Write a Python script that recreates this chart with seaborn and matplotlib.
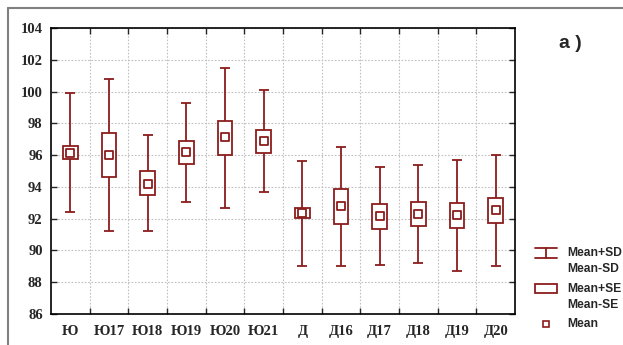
import matplotlib
matplotlib.use("Agg")
import matplotlib.pyplot as plt
import seaborn as sns
import pandas as pd
from matplotlib.lines import Line2D
from matplotlib.patches import Rectangle

categories = ["Ю", "Ю17", "Ю18", "Ю19", "Ю20", "Ю21", "Д", "Д16", "Д17", "Д18", "Д19", "Д20"]
mean_vals = [96.14, 96.00, 94.21, 96.22, 97.12, 96.91, 92.35, 92.79, 92.16, 92.29, 92.23, 92.52]
se_high = [96.55, 97.37, 95.00, 96.89, 98.15, 97.58, 92.69, 93.88, 92.91, 93.04, 92.98, 93.32]
se_low = [95.74, 94.65, 93.46, 95.45, 96.01, 96.14, 92.02, 91.68, 91.37, 91.53, 91.39, 91.75]
sd_high = [99.90, 100.76, 97.25, 99.30, 101.51, 100.07, 95.64, 96.51, 95.24, 95.39, 95.68, 96.01]
sd_low = [92.42, 91.24, 91.20, 93.06, 92.69, 93.65, 89.05, 89.03, 89.07, 89.19, 88.71, 89.03]
y_ticks = [86, 88, 90, 92, 94, 96, 98, 100, 102, 104]
legend_labels = ["Mean+SD\nMean-SD", "Mean+SE\nMean-SE", "Mean"]

df = pd.DataFrame({"cat": categories, "mean": mean_vals, "se_hi": se_high,
                   "se_lo": se_low, "sd_hi": sd_high, "sd_lo": sd_low})
df["x"] = range(len(df))

sns.set_style("white")
plt.rcParams["font.family"] = ["Liberation Serif", "DejaVu Serif"]
color = "#8b1c1c"

fig = plt.figure(figsize=(6.23, 3.45), dpi=100)
ax = fig.add_axes([51 / 623, 1 - 314 / 345, 464 / 623, 286 / 345])

# outer gray frame
fig.add_artist(Line2D([8 / 623, 8 / 623], [0, 1 - 8 / 345], color="#808080", lw=1.5, transform=fig.transFigure))
fig.add_artist(Line2D([8 / 623, 1], [1 - 8 / 345, 1 - 8 / 345], color="#808080", lw=1.5, transform=fig.transFigure))

lw = 1.3
# whiskers (SD)
ax.vlines(df["x"], df["sd_lo"], df["se_lo"], color=color, lw=lw, zorder=3)
ax.vlines(df["x"], df["se_hi"], df["sd_hi"], color=color, lw=lw, zorder=3)
ax.hlines(df["sd_lo"], df["x"] - 0.13, df["x"] + 0.13, color=color, lw=lw, zorder=3)
ax.hlines(df["sd_hi"], df["x"] - 0.13, df["x"] + 0.13, color=color, lw=lw, zorder=3)
# boxes (SE)
ax.bar(df["x"], df["se_hi"] - df["se_lo"], bottom=df["se_lo"], width=0.38,
       facecolor="white", edgecolor=color, linewidth=lw, zorder=3)
# means
sns.scatterplot(data=df, x="x", y="mean", marker="s", s=30, facecolor="white",
                edgecolor=color, linewidth=1.3, ax=ax, zorder=4, legend=False)

ax.set_xlim(-0.5, len(categories) - 0.5)
ax.set_ylim(86, 104)
ax.set_yticks(y_ticks)
ax.set_yticklabels([str(v) for v in y_ticks], fontsize=10.5, fontweight="bold")
ax.set_xticks(range(len(categories)))
ax.set_xticklabels(categories, fontsize=10.5, fontweight="bold")
ax.set_xticks([i + 0.5 for i in range(len(categories) - 1)], minor=True)
ax.tick_params(axis="x", which="major", length=0, pad=8)
ax.tick_params(axis="x", which="minor", direction="in", length=4, top=True, bottom=True, width=1)
ax.tick_params(axis="y", which="major", direction="in", length=4, left=True, right=True, width=1, pad=6)
ax.set_xlabel("")
ax.set_ylabel("")
ax.grid(True, which="minor", axis="x", color="#c0c0c0", linestyle=(0, (1.5, 1.5)), lw=0.8)
ax.grid(True, which="major", axis="y", color="#c0c0c0", linestyle=(0, (1.5, 1.5)), lw=0.8)
ax.grid(False, which="major", axis="x")
for s in ax.spines.values():
    s.set_visible(True)
    s.set_color("black")
    s.set_linewidth(1.2)

# panel label
fig.text(570 / 623, 1 - 44 / 345, "a )", fontsize=14, fontweight="bold",
         family=["Liberation Sans", "DejaVu Sans"], ha="center", va="center")

# legend
def fx(px):
    return px / 623
def fy(py):
    return 1 - py / 345
T = fig.transFigure
fig.add_artist(Line2D([fx(535), fx(557)], [fy(247.5), fy(247.5)], color=color, lw=lw, transform=T))
fig.add_artist(Line2D([fx(535), fx(557)], [fy(257.5), fy(257.5)], color=color, lw=lw, transform=T))
fig.add_artist(Line2D([fx(546), fx(546)], [fy(247.5), fy(257.5)], color=color, lw=lw, transform=T))
fig.add_artist(Rectangle((fx(535), fy(293)), fx(22), 9 / 345, facecolor="white",
                         edgecolor=color, lw=lw, transform=T))
fig.add_artist(Line2D([fx(546)], [fy(324)], marker="s", markersize=5, markerfacecolor="white",
                      markeredgecolor=color, markeredgewidth=1.2, linestyle="none", transform=T))
for txt, ypx in zip(legend_labels, [261, 297, 324]):
    fig.text(fx(567), fy(ypx), txt, fontsize=8.7, fontweight="bold", linespacing=1.55,
             family=["Liberation Sans", "DejaVu Sans"], ha="left", va="center")

fig.savefig("out.png", dpi=100)
